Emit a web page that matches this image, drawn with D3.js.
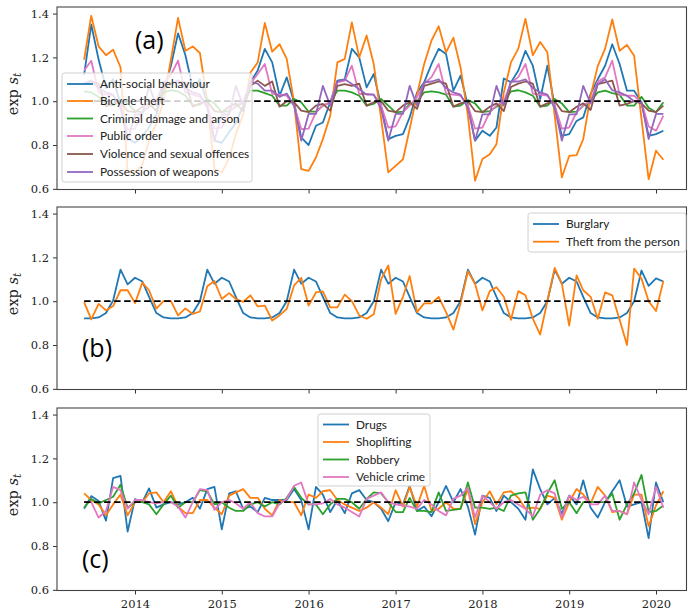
<!DOCTYPE html>
<html><head><meta charset="utf-8">
<script src="https://cdn.jsdelivr.net/npm/d3@7"></script>
<style>body{margin:0;background:#fff}svg{display:block}</style>
</head><body><svg id="c" width="688" height="611"></svg>
<script>
// ---------- data ----------
const startMonth = new Date(2013, 5, 1); // June 2013
const endMonth = new Date(2020, 2, 1);   // exclusive (last = Feb 2020)
const months = d3.timeMonth.range(startMonth, endMonth);
const yearTicks = [2014, 2015, 2016, 2017, 2018, 2019, 2020];
const yTicks = [0.6, 0.8, 1.0, 1.2, 1.4];

const antiSocial = [1.12,1.35,1.19,1.06,1.10,0.99,0.83,0.81,0.84,0.88,0.94,1.05,
 1.16,1.31,1.21,1.06,1.10,0.99,0.82,0.81,0.86,0.90,0.98,1.086,
 1.14,1.239,1.177,1.025,1.109,0.995,0.835,0.80,0.888,0.903,0.995,1.094,
 1.10,1.239,1.20,1.063,1.124,0.98,0.827,0.842,0.85,0.926,1.04,1.086,
 1.17,1.239,1.216,1.048,1.117,0.98,0.82,0.865,0.842,0.88,1.104,1.086,
 1.14,1.23,1.162,1.01,1.162,0.98,0.842,0.85,0.91,0.926,1.033,1.10,
 1.162,1.26,1.17,1.048,1.048,0.995,0.842,0.85,0.865];
const bicycle = [1.19,1.39,1.25,1.21,1.235,1.155,0.68,0.675,0.71,0.82,0.90,1.0,
 1.19,1.38,1.23,1.25,1.22,1.0,0.69,0.675,0.74,0.85,0.94,1.13,
 1.177,1.357,1.226,1.26,1.193,0.995,0.69,0.682,0.743,0.827,0.934,1.177,
 1.193,1.36,1.20,1.30,1.17,0.92,0.675,0.705,0.735,0.873,1.03,1.17,
 1.277,1.342,1.223,1.29,1.155,0.934,0.637,0.736,0.758,0.804,1.04,1.177,
 1.24,1.376,1.21,1.27,1.223,0.934,0.652,0.75,0.754,0.827,1.025,1.16,
 1.24,1.373,1.23,1.257,1.208,0.918,0.644,0.774,0.733];
const criminalDamage = [1.045,1.04,1.02,0.985,0.98,1.005,0.99,0.955,0.95,0.975,0.99,1.04,
 1.05,1.045,1.025,0.98,0.985,1.01,0.99,0.95,0.955,0.975,0.995,1.048,
 1.048,1.037,1.025,0.98,0.98,1.01,0.995,0.952,0.952,0.98,0.995,1.048,
 1.048,1.04,1.025,0.98,0.988,1.01,0.98,0.949,0.952,0.988,1.0,1.04,
 1.045,1.04,1.03,0.975,0.98,1.005,0.99,0.95,0.955,0.975,1.0,1.045,
 1.05,1.04,1.025,0.975,0.98,1.01,0.99,0.95,0.952,0.98,1.0,1.04,
 1.048,1.037,1.03,0.98,0.98,1.02,0.97,0.95,0.995];
const publicOrder = [1.14,1.185,1.04,1.03,1.025,0.98,0.87,0.875,0.95,0.98,1.0,1.08,
 1.12,1.185,1.04,1.03,1.02,0.98,0.875,0.88,0.95,0.98,1.0,1.08,
 1.124,1.17,1.033,1.03,1.025,0.98,0.873,0.875,0.949,0.98,0.995,1.086,
 1.094,1.162,1.033,1.033,1.03,0.98,0.88,0.885,0.95,0.98,1.02,1.08,
 1.11,1.17,1.035,1.03,1.025,0.98,0.875,0.88,0.95,0.98,1.0,1.085,
 1.11,1.17,1.035,1.03,1.025,0.98,0.875,0.88,0.95,0.98,1.0,1.09,
 1.109,1.185,1.03,1.025,1.025,0.995,0.885,0.865,0.934];
const violence = [1.08,1.09,1.08,0.975,0.99,1.0,0.955,0.95,0.975,0.99,0.955,1.06,
 1.08,1.09,1.085,0.975,0.99,1.0,0.955,0.95,0.975,0.99,0.955,1.07,
 1.094,1.07,1.09,0.975,1.0,0.995,0.957,0.95,0.98,0.988,0.957,1.07,
 1.078,1.07,1.08,0.98,0.995,1.0,0.957,0.95,0.98,0.995,0.965,1.07,
 1.08,1.09,1.08,0.975,0.99,1.0,0.955,0.95,0.975,0.99,0.955,1.065,
 1.08,1.09,1.08,0.975,0.99,1.0,0.955,0.95,0.975,0.99,0.96,1.078,
 1.086,1.094,0.98,0.988,1.0,0.99,0.957,0.95,0.98];
const weapons = [1.08,1.095,1.06,1.04,1.03,0.97,0.82,0.94,0.94,1.07,0.98,1.09,
 1.08,1.095,1.06,1.04,1.03,0.97,0.82,0.94,0.94,1.07,0.98,1.09,
 1.08,1.048,1.048,1.02,1.035,0.98,0.82,0.942,0.942,1.07,0.98,1.09,
 1.10,1.078,1.055,1.03,1.03,0.965,0.82,0.942,0.942,1.07,0.98,1.086,
 1.09,1.10,1.06,1.04,1.03,0.97,0.82,0.94,0.94,1.07,0.98,1.09,
 1.09,1.10,1.06,1.04,1.03,0.97,0.82,0.94,0.94,1.07,0.99,1.078,
 1.10,1.05,1.04,1.025,1.0,0.995,0.827,0.942,0.942];

const burglary = [0.922,0.922,0.926,0.946,1.003,1.144,1.077,1.107,1.09,1.02,0.946,0.926,
 0.922,0.922,0.926,0.946,1.0,1.144,1.08,1.107,1.09,1.02,0.946,0.926,
 0.922,0.922,0.926,0.946,1.0,1.144,1.08,1.107,1.09,1.02,0.946,0.926,
 0.922,0.922,0.926,0.946,1.0,1.144,1.08,1.107,1.09,1.02,0.946,0.926,
 0.922,0.922,0.926,0.946,1.0,1.144,1.08,1.107,1.09,1.02,0.946,0.926,
 0.922,0.922,0.926,0.946,1.0,1.144,1.08,1.107,1.09,1.02,0.946,0.926,
 0.922,0.922,0.926,0.946,1.0,1.14,1.07,1.104,1.09];
const theftPerson = [0.996,0.917,0.988,0.958,0.978,1.05,1.05,0.991,1.085,1.05,0.966,1.0,
 1.0,0.935,0.967,0.942,0.953,1.068,1.092,1.01,1.037,1.01,0.997,1.027,
 0.976,0.98,0.912,0.935,0.965,1.072,1.107,0.98,1.04,1.045,0.972,0.972,
 1.03,1.0,0.935,0.92,0.94,1.1,1.163,0.942,1.02,1.115,0.95,0.99,
 0.99,1.02,0.95,0.87,0.99,1.137,1.08,0.958,1.046,1.064,1.02,0.915,
 1.046,1.027,0.92,0.848,1.0,1.152,1.08,0.889,1.118,1.05,1.02,0.92,
 1.04,1.027,0.915,0.80,1.149,1.103,1.0,0.955,1.092];

const drugs = [0.97,1.028,1.005,0.916,1.11,1.12,0.866,1.014,1.0,1.063,0.975,0.99,
 1.0,0.99,1.0,1.02,0.97,1.06,1.07,0.876,1.04,1.05,0.97,0.98,
 0.955,1.02,1.01,1.01,1.01,1.06,1.01,0.876,1.07,1.035,0.955,1.01,
 0.95,1.04,1.055,1.01,1.0,0.97,0.913,1.0,0.99,1.074,0.96,0.98,
 0.936,1.0,1.074,1.0,1.06,0.98,0.852,1.03,1.02,0.96,1.03,1.0,
 0.97,0.92,1.15,1.06,0.99,1.02,0.947,1.03,0.99,1.1,0.975,0.93,
 1.0,1.05,1.1,0.98,0.99,1.0,0.836,1.09,1.0];
const shoplifting = [1.04,1.01,0.99,0.94,0.99,1.035,0.94,1.0,1.0,1.04,1.045,1.0,
 1.05,0.98,0.95,0.95,1.01,1.01,0.975,0.945,1.03,1.045,1.06,1.02,
 1.02,0.97,0.94,1.01,1.0,1.0,0.94,1.035,1.02,1.05,1.055,1.01,
 0.99,0.975,0.96,0.975,1.0,0.975,0.945,1.055,0.98,1.07,0.98,1.075,
 0.96,0.97,1.0,0.97,0.97,1.06,0.9,1.0,1.05,0.99,1.045,1.05,
 1.02,0.97,0.975,0.97,1.03,1.02,0.92,1.0,1.06,1.035,0.995,1.07,
 1.03,0.955,0.96,0.945,1.035,1.035,0.89,0.985,1.05];
const robbery = [0.975,1.015,0.995,1.01,1.025,1.08,0.975,1.0,1.0,0.99,0.945,0.99,
 1.03,0.975,1.0,1.0,1.055,1.05,0.99,1.0,0.975,0.96,0.96,0.99,
 1.0,0.98,1.0,0.99,1.02,1.07,1.02,0.99,0.99,0.945,0.99,1.015,
 1.015,1.0,0.97,1.015,1.045,1.04,1.0,0.955,0.955,1.02,0.96,0.96,
 0.955,1.045,0.96,0.965,0.97,1.09,0.975,0.975,0.97,0.975,0.96,1.03,
 1.04,1.045,0.92,0.97,1.04,1.1,0.97,1.0,0.95,1.0,1.0,1.0,
 1.0,1.04,0.92,0.99,1.04,1.125,0.955,0.96,0.985];
const vehicle = [1.0,1.0,0.93,0.96,1.07,1.055,0.97,1.01,1.01,1.0,0.995,1.0,
 1.0,0.98,0.93,1.0,1.06,1.055,0.965,1.0,1.01,0.995,0.97,1.0,
 0.95,0.935,0.935,0.995,1.015,1.075,1.09,0.99,0.99,0.995,1.015,0.99,
 0.975,0.955,0.935,1.015,1.03,1.045,1.0,0.99,0.985,0.98,0.97,1.01,
 0.99,0.96,0.94,1.015,1.03,1.065,0.93,1.03,1.0,0.97,1.0,1.01,
 0.99,0.97,0.935,1.035,1.055,1.04,0.93,1.03,1.01,1.025,0.99,0.99,
 1.03,0.96,0.96,0.945,1.09,1.01,0.945,1.07,0.975];

const panels = [
  {label:"(a)", top:0, series:[
    {name:"Anti-social behaviour", values:antiSocial, color:"#1f77b4"},
    {name:"Bicycle theft", values:bicycle, color:"#ff7f0e"},
    {name:"Criminal damage and arson", values:criminalDamage, color:"#2ca02c"},
    {name:"Public order", values:publicOrder, color:"#e377c2"},
    {name:"Violence and sexual offences", values:violence, color:"#8c564b"},
    {name:"Possession of weapons", values:weapons, color:"#9467bd"}],
   legend:{x:62, y:73, w:190, h:109, rowY:[84,101,118.5,136,154,172]},
   labelPos:[135,49]},
  {label:"(b)", top:200, series:[
    {name:"Burglary", values:burglary, color:"#1f77b4"},
    {name:"Theft from the person", values:theftPerson, color:"#ff7f0e"}],
   legend:{x:528, y:213, w:158, h:39, rowY:[224,241.7]},
   labelPos:[82,357]},
  {label:"(c)", top:401, series:[
    {name:"Drugs", values:drugs, color:"#1f77b4"},
    {name:"Shoplifting", values:shoplifting, color:"#ff7f0e"},
    {name:"Robbery", values:robbery, color:"#2ca02c"},
    {name:"Vehicle crime", values:vehicle, color:"#e377c2"}],
   legend:{x:318, y:414, w:112, h:72, rowY:[424.5,442,459.5,477]},
   labelPos:[82,568]}
];

// ---------- drawing ----------
const svg = d3.select("#c");
const left = 57, right = 686.5;
const xRef = d3.scaleTime().domain([new Date(2014,0,1), new Date(2020,0,1)]).range([135, 656]);
const x = d3.scaleTime().domain([xRef.invert(left), xRef.invert(right)]).range([left, right]);
const serif = "'DejaVu Serif', serif";

panels.forEach((p, pi) => {
  const t = p.top;
  const y = d3.scaleLinear().domain([0.597, 1.43]).range([t + 189.5, t + 7]);
  const g = svg.append("g");
  const clipId = "clip" + pi;
  svg.append("clipPath").attr("id", clipId).append("rect")
    .attr("x", left).attr("y", t + 7).attr("width", right - left).attr("height", 182.5);

  const plot = g.append("g").attr("clip-path", `url(#${clipId})`);
  const line = d3.line().x((d, i) => x(months[i])).y(d => y(d));
  p.series.forEach(s => {
    plot.append("path").datum(s.values).attr("d", line)
      .attr("fill", "none").attr("stroke", s.color).attr("stroke-width", 1.8)
      .attr("stroke-linejoin", "round");
  });
  // reference line at 1.0
  plot.append("line").attr("x1", x(months[0])).attr("x2", x(months[months.length-1]))
    .attr("y1", y(1)).attr("y2", y(1)).attr("stroke", "#000").attr("stroke-width", 1.8)
    .attr("stroke-dasharray", "6.5,3.5");

  // y axis
  const ya = g.append("g").attr("transform", `translate(${left},0)`)
    .call(d3.axisLeft(y).tickValues(yTicks).tickFormat(d3.format(".1f")).tickSize(4).tickPadding(4));
  ya.select(".domain").remove();
  ya.selectAll("line").attr("stroke", "#333");
  ya.selectAll("text").attr("font-family", serif).attr("font-size", 11.5).attr("fill", "#222");

  // x axis
  const xa = g.append("g").attr("transform", `translate(0,${t + 189.5})`)
    .call(d3.axisBottom(x).tickValues(yearTicks.map(yy => new Date(yy,0,1)))
      .tickFormat(pi === 2 ? d3.timeFormat("%Y") : () => "").tickSize(4).tickPadding(5));
  xa.select(".domain").remove();
  xa.selectAll("line").attr("stroke", "#333");
  xa.selectAll("text").attr("font-family", serif).attr("font-size", 11.5).attr("fill", "#222");

  // frame
  g.append("rect").attr("x", left).attr("y", t + 7).attr("width", right - left).attr("height", 182.5)
    .attr("fill", "none").attr("stroke", "#444").attr("stroke-width", 1.1);

  // y label
  const yl = g.append("text").attr("transform", `translate(18,${t + 94}) rotate(-90)`)
    .attr("text-anchor", "middle").attr("font-family", serif).attr("font-size", 14.5).attr("fill", "#222");
  yl.append("tspan").text("exp ");
  yl.append("tspan").attr("font-style", "italic").text("s");
  yl.append("tspan").attr("font-style", "italic").attr("font-size", 10.5).attr("dy", 3).text("t");

  // legend
  const L = p.legend;
  const lg = g.append("g");
  lg.append("rect").attr("x", L.x).attr("y", L.y).attr("width", L.w).attr("height", L.h)
    .attr("rx", 2.5).attr("fill", "#fff").attr("fill-opacity", 0.8)
    .attr("stroke", "#d0d0d0").attr("stroke-width", 1);
  p.series.forEach((s, i) => {
    const ry = L.rowY[i];
    lg.append("line").attr("x1", L.x + 5).attr("x2", L.x + 31).attr("y1", ry).attr("y2", ry)
      .attr("stroke", s.color).attr("stroke-width", 1.8);
    lg.append("text").attr("x", L.x + 38).attr("y", ry + 4).text(s.name)
      .attr("font-family", "Lato, sans-serif").attr("font-size", 11.8).attr("fill", "#222");
  });

  // panel label
  g.append("text").attr("x", p.labelPos[0]).attr("y", p.labelPos[1]).text(p.label)
    .attr("font-family", "'Open Sans', sans-serif").attr("font-size", 25).attr("fill", "#000");
});
</script></body></html>
